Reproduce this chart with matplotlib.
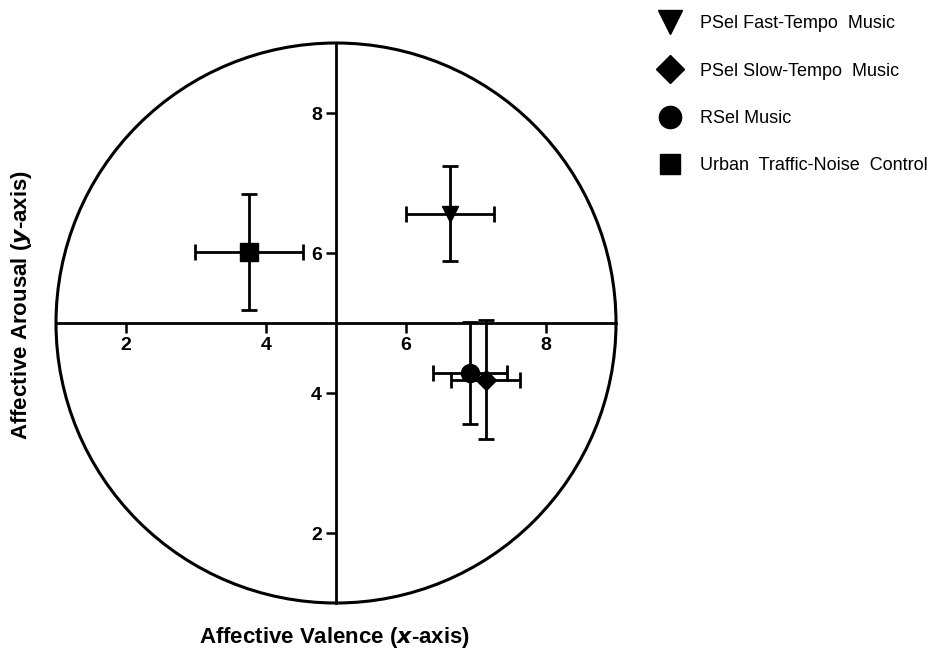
import matplotlib
matplotlib.use("Agg")
import matplotlib.pyplot as plt
from matplotlib.patches import Circle
from matplotlib.lines import Line2D

plt.rcParams['font.family'] = ['Liberation Sans', 'DejaVu Sans']

conditions = ["PSel Fast-Tempo  Music", "PSel Slow-Tempo  Music", "RSel Music",
              "Urban  Traffic-Noise  Control"]
markers = ["v", "D", "o", "s"]
valence = [6.63, 7.14, 6.91, 3.76]
valence_err = [0.63, 0.49, 0.53, 0.77]
arousal = [6.56, 4.19, 4.29, 6.01]
arousal_err = [0.68, 0.85, 0.73, 0.83]
marker_sizes = [12, 10, 13, 13]
legend_sizes = [17, 14, 16, 15]
ticks = [2, 4, 6, 8]

fig = plt.figure(figsize=(9.4, 6.51), dpi=100)
ax = fig.add_axes([56/940, (651-603)/651, 560/940, 560/651])
ax.set_xlim(1, 9)
ax.set_ylim(1, 9)

circ = Circle((5, 5), 4, fill=False, lw=2.2, color='black', clip_on=False)
ax.add_patch(circ)

for s in ['top', 'right']:
    ax.spines[s].set_visible(False)
ax.spines['left'].set_position(('data', 5))
ax.spines['bottom'].set_position(('data', 5))
ax.spines['left'].set_linewidth(2)
ax.spines['bottom'].set_linewidth(2)
ax.set_xticks(ticks)
ax.set_yticks(ticks)
ax.tick_params(width=1.8, length=7, direction='out', labelsize=14, pad=3)
for lab in ax.get_xticklabels() + ax.get_yticklabels():
    lab.set_fontweight('bold')

handles = []
for i in range(len(conditions)):
    ax.errorbar(valence[i], arousal[i], xerr=valence_err[i], yerr=arousal_err[i],
                fmt=markers[i], color='black', ms=marker_sizes[i], elinewidth=2,
                capsize=6, capthick=2, zorder=3, clip_on=False)
    handles.append(Line2D([], [], marker=markers[i], color='black', ls='none',
                          ms=legend_sizes[i], label=conditions[i]))

fig.legend(handles=handles, loc='upper left', bbox_to_anchor=(648/940, 1 - 8/651),
           frameon=False, fontsize=13, labelspacing=1.68, handletextpad=0.9,
           borderaxespad=0, handlelength=1.6)

fig.text(22/940, (651-305)/651, "Affective Arousal ($\\mathbfit{y}$-axis)", rotation=90,
         ha='center', va='center', fontsize=16, fontweight='bold')
fig.text(335/940, (651-637)/651, "Affective Valence ($\\mathbfit{x}$-axis)",
         ha='center', va='center', fontsize=16, fontweight='bold')

fig.savefig("out.png", dpi=100)
